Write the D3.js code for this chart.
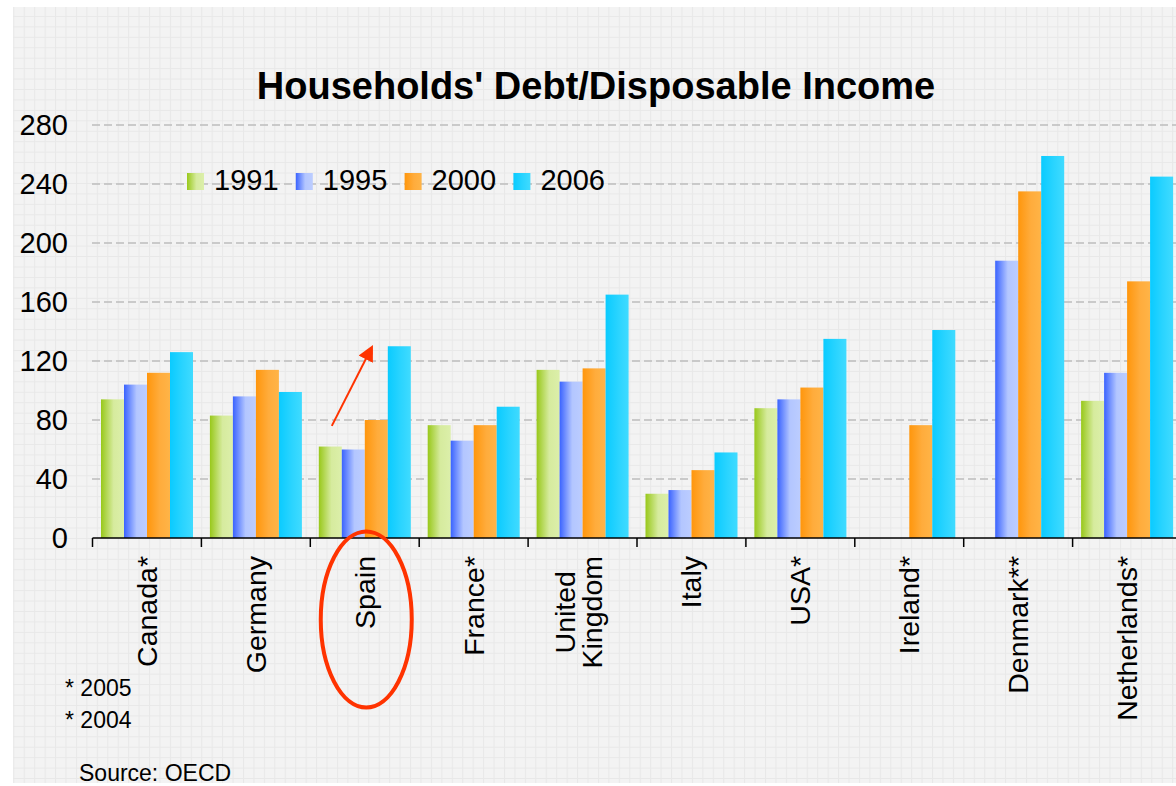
<!DOCTYPE html>
<html>
<head>
<meta charset="utf-8">
<script src="https://cdn.jsdelivr.net/npm/d3@7"></script>
<style>
  html, body { margin: 0; padding: 0; background: #ffffff; }
  svg { display: block; }
  text { font-family: "Liberation Sans", Arial, Helvetica, sans-serif; fill: #000; }
</style>
</head>
<body>
<svg id="chart" width="1176" height="786"></svg>
<script>
// Households' debt as % of disposable income, by country and year
const countries = [
  ["Canada*"], ["Germany"], ["Spain"], ["France*"], ["United", "Kingdom"],
  ["Italy"], ["USA*"], ["Ireland*"], ["Denmark**"], ["Netherlands*"]
];
const years = ["1991", "1995", "2000", "2006"];
const v1991 = [94, 83, 62, 76.5, 114, 30, 88, null, null, 93];
const v1995 = [104, 96, 60, 66, 106, 32.5, 94, null, 188, 112];
const v2000 = [112, 114, 80, 76.5, 115, 46, 102, 76.5, 235, 174];
const v2006 = [126, 99, 130, 89, 165, 58, 135, 141, 259, 245];
const yTicks = [0, 40, 80, 120, 160, 200, 240, 280];
const footnotes = ["* 2005", "* 2004"];
const source = "Source: OECD";
const title = "Households' Debt/Disposable Income";

const seriesValues = [v1991, v1995, v2000, v2006];
// gradient stops per series: dark edge -> light edge
const seriesColors = [
  ["#98c81a", "#d6eb9e", "#dcefaa"],
  ["#3a63ff", "#b3c6ff", "#bccdff"],
  ["#ff960c", "#ffac3c", "#ffb447"],
  ["#0acbff", "#2ad4ff", "#40dbff"]
];

const svg = d3.select("#chart");
const defs = svg.append("defs");

// background with fine grid texture
const pat = defs.append("pattern")
  .attr("id", "bgGrid").attr("patternUnits", "userSpaceOnUse")
  .attr("width", 10.44).attr("height", 10.44)
  .attr("x", 13.3).attr("y", 5.5);
pat.append("rect").attr("width", 10.44).attr("height", 10.44).attr("fill", "#f3f3f3");
pat.append("path").attr("d", "M0,0.5H10.44M0.5,0V10.44")
  .attr("stroke", "#e8e8e8").attr("stroke-width", 1).attr("fill", "none");

svg.append("rect").attr("x", 13).attr("y", 7).attr("width", 1176 - 13).attr("height", 776)
  .attr("fill", "url(#bgGrid)");

seriesColors.forEach((c, i) => {
  const g = defs.append("linearGradient").attr("id", "grad" + i)
    .attr("x1", "0%").attr("x2", "100%").attr("y1", "0%").attr("y2", "0%");
  g.append("stop").attr("offset", "0%").attr("stop-color", c[0]);
  g.append("stop").attr("offset", "55%").attr("stop-color", c[1]);
  g.append("stop").attr("offset", "100%").attr("stop-color", c[2]);
});

// scales
const x = d3.scaleBand().domain(d3.range(countries.length)).range([92.5, 92.5 + 108.9 * countries.length])
  .paddingInner(0).paddingOuter(0);
const xs = d3.scaleBand().domain(d3.range(years.length)).range([8.5, 100.5]).padding(0);
const y = d3.scaleLinear().domain([0, 280]).range([538, 125]);

// horizontal dashed gridlines
svg.append("g").selectAll("line").data(yTicks.filter(t => t > 0)).join("line")
  .attr("x1", 92).attr("x2", 1176)
  .attr("y1", d => y(d)).attr("y2", d => y(d))
  .attr("stroke", "#bdbdbd").attr("stroke-width", 1.5)
  .attr("stroke-dasharray", "8,4");

// y tick labels
svg.append("g").selectAll("text").data(yTicks).join("text")
  .attr("x", 68).attr("y", d => y(d)).attr("dy", "0.36em")
  .attr("text-anchor", "end").style("font-size", "29px")
  .text(d => d);

// bars
const groups = svg.append("g").selectAll("g").data(countries).join("g")
  .attr("transform", (d, i) => `translate(${x(i)},0)`);
groups.each(function (d, ci) {
  const data = seriesValues.map((s, si) => ({ si, v: s[ci] })).filter(e => e.v != null);
  d3.select(this).selectAll("rect").data(data).join("rect")
    .attr("x", e => xs(e.si)).attr("width", xs.bandwidth())
    .attr("y", e => y(e.v)).attr("height", e => y(0) - y(e.v))
    .attr("fill", e => `url(#grad${e.si})`);
});

// x axis line with ticks at category boundaries
svg.append("line").attr("x1", 92.5).attr("x2", 1176).attr("y1", y(0)).attr("y2", y(0))
  .attr("stroke", "#000").attr("stroke-width", 1.5);
svg.append("g").selectAll("line").data(d3.range(countries.length)).join("line")
  .attr("x1", i => x(i)).attr("x2", i => x(i))
  .attr("y1", y(0)).attr("y2", y(0) + 9)
  .attr("stroke", "#000").attr("stroke-width", 1.5);

// rotated category labels
const labelTop = 556, lineH = 27;
countries.forEach((lines, i) => {
  const cx = x(i) + x.bandwidth() / 2 - (lines.length > 1 ? 4 : 0);
  const g = svg.append("g").attr("transform", `translate(${cx},${labelTop}) rotate(-90)`);
  const ts = lines.map((ln, j) => g.append("text")
    .attr("y", (j - (lines.length - 1) / 2) * lineH)
    .attr("dy", "0.35em").attr("text-anchor", "middle")
    .style("font-size", "28.5px").text(ln));
  const maxLen = d3.max(ts, t => t.node().getComputedTextLength());
  ts.forEach(t => t.attr("x", -maxLen / 2));
});

// title
svg.append("text").attr("x", 596).attr("y", 99).attr("text-anchor", "middle")
  .style("font-size", "38px").style("font-weight", "bold").text(title);

// legend
const lg = svg.append("g").selectAll("g").data(years).join("g")
  .attr("transform", (d, i) => `translate(${187 + i * 108.8},173)`);
lg.append("rect").attr("width", 17).attr("height", 17).attr("fill", (d, i) => `url(#grad${i})`);
lg.append("text").attr("x", 27).attr("y", 16.5).style("font-size", "29px").text(d => d);

// footnotes and source
svg.append("g").selectAll("text").data(footnotes).join("text")
  .attr("x", 65).attr("y", (d, i) => 696 + i * 32)
  .style("font-size", "23px").text(d => d);
svg.append("text").attr("x", 79).attr("y", 781).style("font-size", "23px").text(source);

// red annotation: arrow towards Spain's 2006 bar and ellipse round its label
const spain = 2;
const red = "#ff3300";
defs.append("marker").attr("id", "arrowHead").attr("viewBox", "0 0 10 10")
  .attr("refX", 7).attr("refY", 5).attr("markerWidth", 8).attr("markerHeight", 8)
  .attr("markerUnits", "strokeWidth").attr("orient", "auto")
  .append("path").attr("d", "M0,0L10,5L0,10Z").attr("fill", red);
svg.append("line")
  .attr("x1", x(spain) + xs(0) + 13).attr("y1", y(76))
  .attr("x2", x(spain) + xs(2) + 6).attr("y2", y(128))
  .attr("stroke", red).attr("stroke-width", 2)
  .attr("marker-end", "url(#arrowHead)");
svg.append("ellipse")
  .attr("cx", x(spain) + x.bandwidth() / 2 + 1.5).attr("cy", 619.5)
  .attr("rx", 45.5).attr("ry", 88)
  .attr("fill", "none").attr("stroke", red).attr("stroke-width", 4);
</script>
</body>
</html>
